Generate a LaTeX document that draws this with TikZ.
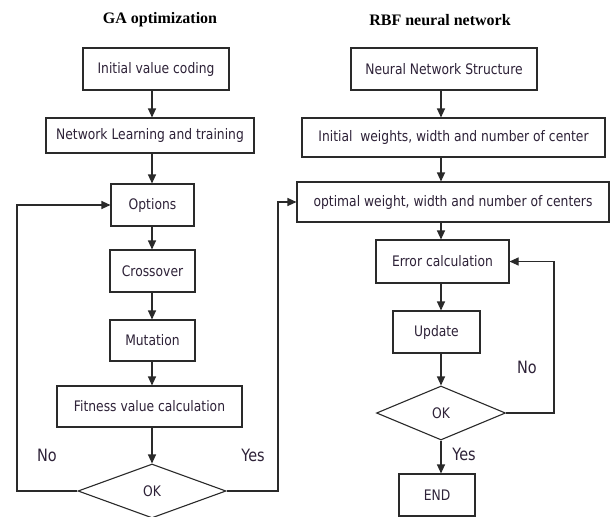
\documentclass[tikz,border=0pt]{standalone}
\usepackage{fontspec}
\setmainfont{DejaVu Sans}[FakeStretch=0.85]
\newfontfamily\titlefont{Liberation Serif}
\usetikzlibrary{shapes.geometric,arrows.meta}
\definecolor{txt}{HTML}{2E2238}
\definecolor{ln}{HTML}{2A2A2A}
\tikzset{
  box/.style={draw=ln, line width=1.1pt, rectangle, inner sep=0pt, text=txt, font=\fontsize{14.5}{16}\selectfont},
  dia/.style={draw=ln, line width=1.1pt, diamond, inner sep=0pt, text=txt, font=\fontsize{14.5}{16}\selectfont},
  arr/.style={draw=ln, line width=1.1pt, -{Triangle[length=9pt,width=8pt]}},
  ttl/.style={font=\titlefont\bfseries\fontsize{16}{18}\selectfont, text=black},
  lbl/.style={font=\fontsize{17}{19}\selectfont, text=txt}
}
\begin{document}
\begin{tikzpicture}[x=1pt,y=-1pt]
\useasboundingbox[fill=white] (0,0) rectangle (614,517);
% titles
\node[ttl] (t1) at (160,20) {GA optimization};
\node[ttl] (t2) at (440,20) {RBF neural network};
% left column
\node[box, minimum width=146pt, minimum height=42pt] (a1) at (156,69) {Initial value coding};
\node[box, minimum width=208pt, minimum height=35pt] (a2) at (150,135.5) {Network Learning and training};
\node[box, minimum width=83pt, minimum height=42pt] (a3) at (152.5,205) {Options};
\node[box, minimum width=85pt, minimum height=42pt] (a4) at (152.5,271) {Crossover};
\node[box, minimum width=85pt, minimum height=41pt] (a5) at (152.5,340.5) {Mutation};
\node[box, minimum width=185pt, minimum height=41pt] (a6) at (149.5,406.5) {Fitness value calculation};
\node[dia, minimum width=148pt, minimum height=54pt] (a7) at (152,491) {OK};
\coordinate (ax) at (152,0);
\draw[arr] (a1.south -| ax) -- (a2.north -| ax);
\draw[arr] (a2.south -| ax) -- (a3.north -| ax);
\draw[arr] (a3.south -| ax) -- (a4.north -| ax);
\draw[arr] (a4.south -| ax) -- (a5.north -| ax);
\draw[arr] (a5.south -| ax) -- (a6.north -| ax);
\draw[arr] (a6.south -| ax) -- (a7.north);
\coordinate (lx) at (17,0);
\coordinate (rx) at (278,0);
\draw[arr] (a7.west) -- (a7.west -| lx) -- (a3.west -| lx) -- (a3.west);
\node[lbl] (no1) at (47,455) {No};
\node[lbl] (yes1) at (253,455) {Yes};
% right column
\node[box, minimum width=186pt, minimum height=42pt] (b1) at (444,69) {Neural Network Structure};
\node[box, minimum width=303pt, minimum height=39pt] (b2) at (453.5,137.5) {Initial\ \ weights, width and number of center};
\node[box, minimum width=312pt, minimum height=40pt] (b3) at (453,202) {optimal weight, width and number of centers};
\node[box, minimum width=133pt, minimum height=43pt] (b4) at (442.5,261.5) {Error calculation};
\node[box, minimum width=87pt, minimum height=42pt] (b5) at (436.5,332) {Update};
\node[dia, minimum width=129pt, minimum height=54pt] (b6) at (441,413) {OK};
\node[box, minimum width=76pt, minimum height=42pt] (b7) at (437,495) {END};
\coordinate (bx) at (441,0);
\draw[arr] (b1.south -| bx) -- (b2.north -| bx);
\draw[arr] (b2.south -| bx) -- (b3.north -| bx);
\draw[arr] (b3.south -| bx) -- (b4.north -| bx);
\draw[arr] (b4.south -| bx) -- (b5.north -| bx);
\draw[arr] (b5.south -| bx) -- (b6.north);
\draw[arr] (b6.south) -- (b7.north -| b6.south);
\draw[arr] (a7.east) -- (a7.east -| rx) -- (b3.west -| rx) -- (b3.west);
\coordinate (ex) at (554,0);
\draw[arr] (b6.east) -- (b6.east -| ex) -- (b4.east -| ex) -- (b4.east);
\node[lbl] (no2) at (527,367) {No};
\node[lbl] (yes2) at (464,454) {Yes};
\end{tikzpicture}
\end{document}
